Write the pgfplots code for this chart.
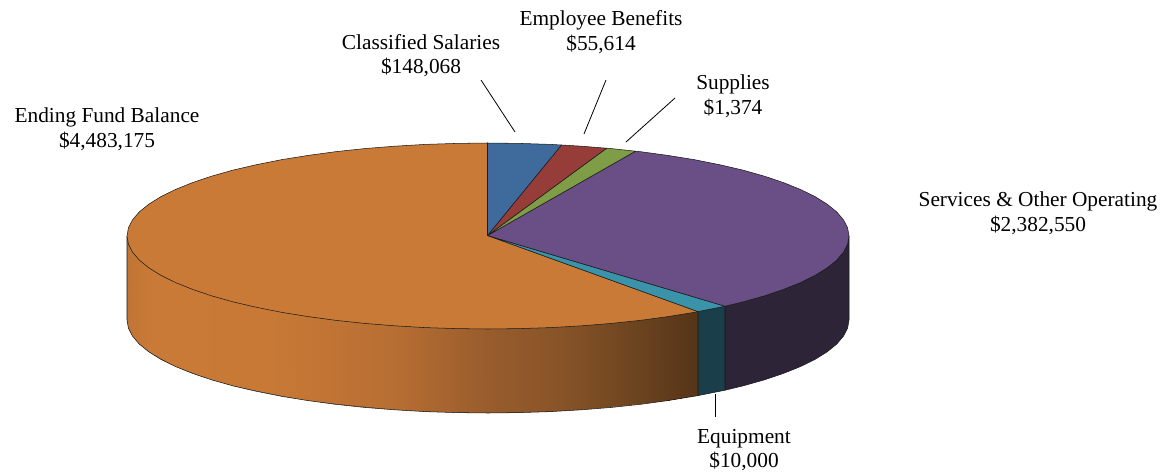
\documentclass[border=0pt]{standalone}
\usepackage{fontspec}
\setmainfont{Liberation Serif}
\usepackage{pgfplots}
\pgfplotsset{compat=1.18}

\definecolor{cblue}{HTML}{3E6A9C}
\definecolor{cred}{HTML}{963D3A}
\definecolor{cgreen}{HTML}{7F9C47}
\definecolor{cpurple}{HTML}{694F85}
\definecolor{cteal}{HTML}{3A93A8}
\definecolor{corange}{HTML}{C97A37}
\definecolor{dorange}{HTML}{9A5C2D}
\definecolor{dteal}{HTML}{1B3F4A}
\definecolor{dpurple}{HTML}{2D2438}
\definecolor{edge}{HTML}{1A1A1A}

\pgfplotsset{
  colormap={sideorange}{
    rgb255(127)=(192,116,52)
    rgb255(150)=(201,122,55)
    rgb255(270)=(200,121,54)
    rgb255(390)=(184,111,51)
    rgb255(490)=(152,92,45)
    rgb255(560)=(136,84,40)
    rgb255(630)=(110,69,32)
    rgb255(698)=(85,52,24)
  },
  wedge/.style={draw=edge, line width=0.4pt, line join=round},
  leader/.style={draw=black, line width=0.6pt},
}
\tikzset{lab/.style={align=center, inner sep=0pt, font=\fontsize{16}{18.4}\selectfont}}

\begin{document}
\begin{tikzpicture}
\begin{axis}[
    scale only axis,
    width=873pt, height=354pt,
    hide axis, clip=false,
    xmin=0, xmax=1164,
    ymin=0, ymax=472,
    y dir=reverse,
]

% keeps the page as large as the whole axis
\addplot[draw=none] coordinates {(0,0)(1164,472)};

% side walls
\addplot[wedge, fill=dpurple] coordinates {
 (849,236)(847.6,244.1)(843.5,252.1)(836.7,260.1)(827.2,267.8)(815.2,275.3)
 (800.6,282.5)(783.7,289.3)(764.5,295.8)(743.3,301.8)(725,306.2)
 (725,390.2)(743.3,385.8)(764.5,379.8)(783.7,373.3)(800.6,366.5)
 (815.2,359.3)(827.2,351.8)(836.7,344.1)(843.5,336.1)(847.6,328.1)(849,320)
} -- cycle;
\addplot[wedge, fill=dteal] coordinates {
 (725,306.2)(720.1,307.2)(698,311.6)(698,395.6)(720.1,391.2)(725,390.2)
} -- cycle;

% base under the shaded wall, so no gap shows along its edge
\addplot[draw=none, fill=dorange] coordinates {
 (698,311.6)(698,395.6)(668.5,400.5)(640.6,404.3)(611.5,407.4)(581.4,409.8)
 (550.7,411.6)(519.5,412.6)(488,413)(456.5,412.6)(425.3,411.6)(394.6,409.8)
 (364.5,407.4)(335.4,404.3)(307.5,400.5)(280.9,396.2)(255.9,391.2)(232.7,385.8)
 (211.5,379.8)(192.3,373.3)(175.4,366.5)(160.8,359.3)(148.8,351.8)(139.3,344.1)
 (132.5,336.1)(128.4,328.1)(127,320)(127,236)(488,300)
} -- cycle;

% orange wall, shaded along x; top row runs under the top face
\addplot[surf, shader=interp, mesh/rows=2, point meta=x,
    point meta min=127, point meta max=698, colormap name=sideorange] table {
x y
698 308.6
668.5 313.5
640.6 317.3
611.5 320.4
581.4 322.8
550.7 324.6
519.5 325.6
488 326
456.5 325.6
425.3 324.6
394.6 322.8
364.5 320.4
335.4 317.3
307.5 313.5
280.9 309.2
255.9 304.2
232.7 298.8
211.5 292.8
192.3 286.3
175.4 279.5
160.8 272.3
148.8 264.8
139.3 257.1
132.5 249.1
128.4 241.1
127 233
698 394.6
668.5 399.5
640.6 403.3
611.5 406.4
581.4 408.8
550.7 410.6
519.5 411.6
488 412
456.5 411.6
425.3 410.6
394.6 408.8
364.5 406.4
335.4 403.3
307.5 399.5
280.9 395.2
255.9 390.2
232.7 384.8
211.5 378.8
192.3 372.3
175.4 365.5
160.8 358.3
148.8 350.8
139.3 343.1
132.5 335.1
128.4 327.1
127 319
};
\addplot[wedge] coordinates {
 (698,311.6)(698,395.6)(668.5,400.5)(640.6,404.3)(611.5,407.4)(581.4,409.8)
 (550.7,411.6)(519.5,412.6)(488,413)(456.5,412.6)(425.3,411.6)(394.6,409.8)
 (364.5,407.4)(335.4,404.3)(307.5,400.5)(280.9,396.2)(255.9,391.2)(232.7,385.8)
 (211.5,379.8)(192.3,373.3)(175.4,366.5)(160.8,359.3)(148.8,351.8)(139.3,344.1)
 (132.5,336.1)(128.4,328.1)(127,320)(127,236)
};

% top face
\addplot[wedge, fill=corange] coordinates {
 (487.5,235.5)(698,311.6)(695.1,312.2)(668.5,316.5)(640.6,320.3)(611.5,323.4)
 (581.4,325.8)(550.7,327.6)(519.5,328.6)(488,329)(456.5,328.6)(425.3,327.6)
 (394.6,325.8)(364.5,323.4)(335.4,320.3)(307.5,316.5)(280.9,312.2)(255.9,307.2)
 (232.7,301.8)(211.5,295.8)(192.3,289.3)(175.4,282.5)(160.8,275.3)(148.8,267.8)
 (139.3,260.1)(132.5,252.1)(128.4,244.1)(127,236)(128.4,227.9)(132.5,219.9)
 (139.3,211.9)(148.8,204.2)(160.8,196.7)(175.4,189.5)(192.3,182.7)(211.5,176.2)
 (232.7,170.2)(255.9,164.8)(280.9,159.8)(307.5,155.5)(335.4,151.7)(364.5,148.6)
 (394.6,146.2)(425.3,144.4)(456.5,143.4)(487.5,143)
} -- cycle;
\addplot[wedge, fill=cteal] coordinates {
 (487.5,235.5)(725,306.2)(720.1,307.2)(698,311.6)
} -- cycle;
\addplot[wedge, fill=cpurple] coordinates {
 (487.5,235.5)(635.5,151.2)(640.6,151.7)(668.5,155.5)(695.1,159.8)(720.1,164.8)
 (743.3,170.2)(764.5,176.2)(783.7,182.7)(800.6,189.5)(815.2,196.7)(827.2,204.2)
 (836.7,211.9)(843.5,219.9)(847.6,227.9)(849,236)(847.6,244.1)(843.5,252.1)
 (836.7,260.1)(827.2,267.8)(815.2,275.3)(800.6,282.5)(783.7,289.3)(764.5,295.8)
 (743.3,301.8)(725,306.2)
} -- cycle;
\addplot[wedge, fill=cgreen] coordinates {
 (487.5,235.5)(606.7,148.2)(611.5,148.6)(635.5,151.2)
} -- cycle;
\addplot[wedge, fill=cred] coordinates {
 (487.5,235.5)(561.5,145)(581.4,146.2)(606.7,148.2)
} -- cycle;
\addplot[wedge, fill=cblue] coordinates {
 (487.5,235.5)(487.5,143)(519.5,143.4)(550.7,144.4)(561.5,145)
} -- cycle;

% leader lines
\addplot[leader] coordinates {(481,80)(515,132)};
\addplot[leader] coordinates {(606,80)(584,134)};
\addplot[leader] coordinates {(675,98)(626,142)};
\addplot[leader] coordinates {(715,394)(715,417)};

% labels
\node[lab] at (axis cs:107,129.5) {Ending Fund Balance\\\$4,483,175};
\node[lab] at (axis cs:421,55.5) {Classified Salaries\\\$148,068};
\node[lab] at (axis cs:601,32) {Employee Benefits\\\$55,614};
\node[lab] at (axis cs:733,96) {Supplies\\\$1,374};
\node[lab] at (axis cs:1038,213) {Services \& Other Operating\\\$2,382,550};
\node[lab] at (axis cs:744,450) {Equipment\\\$10,000};
\end{axis}
\end{tikzpicture}
\end{document}
